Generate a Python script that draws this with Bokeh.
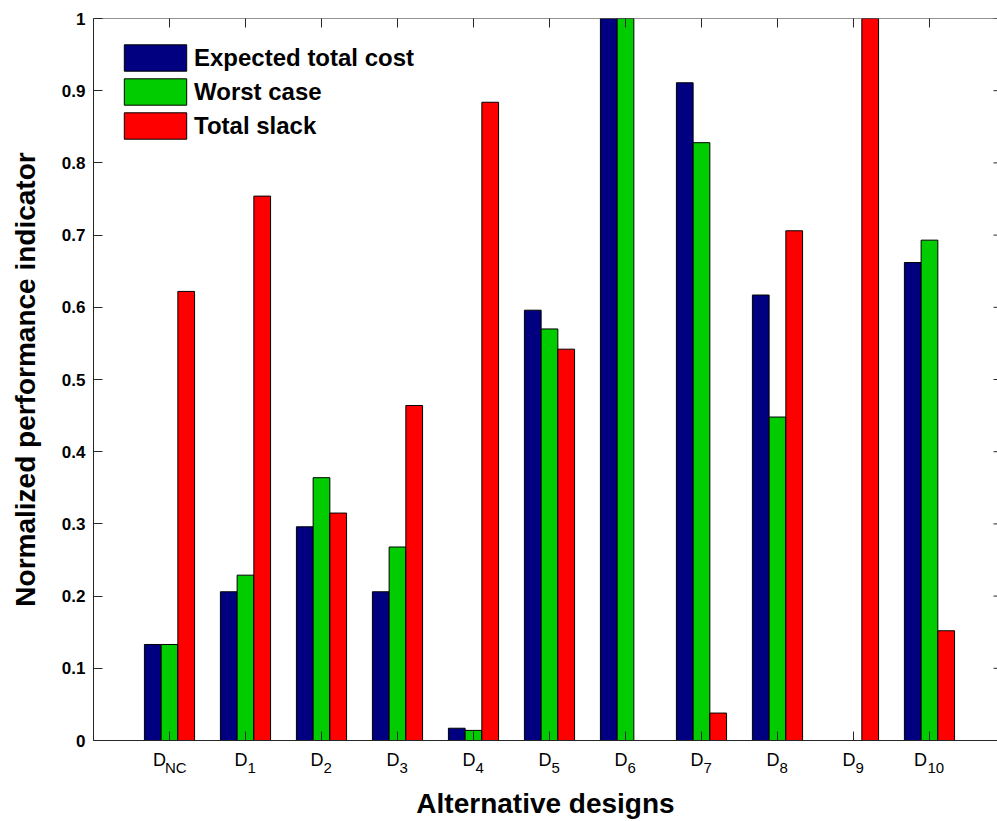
import math
from bokeh.plotting import figure
from bokeh.models import (Range1d, FixedTicker, LinearAxis, Legend, LegendItem,
                          ColumnDataSource, Span)
from bokeh.transform import dodge
from bokeh.embed import file_html
from bokeh.resources import INLINE

# ---------------- data ----------------
design_pos = [1, 2, 3, 4, 5, 6, 7, 8, 9, 10, 11]
design_sub = ["NC", "1", "2", "3", "4", "5", "6", "7", "8", "9", "10"]
expected_total_cost = [0.133, 0.206, 0.296, 0.206, 0.017, 0.596, 1.000, 0.911, 0.617, 0.000, 0.662]
worst_case          = [0.133, 0.229, 0.364, 0.268, 0.014, 0.570, 1.000, 0.828, 0.448, 0.000, 0.693]
total_slack         = [0.622, 0.754, 0.315, 0.464, 0.884, 0.542, 0.000, 0.038, 0.706, 1.000, 0.152]
series_names = ["Expected total cost", "Worst case", "Total slack"]
y_ticks = [0, 0.1, 0.2, 0.3, 0.4, 0.5, 0.6, 0.7, 0.8, 0.9, 1]
y_tick_labels = ["0", "0.1", "0.2", "0.3", "0.4", "0.5", "0.6", "0.7", "0.8", "0.9", "1"]

FONT = "Liberation Sans"
AX = "#262626"

src = ColumnDataSource(dict(x=design_pos, etc=expected_total_cost, wc=worst_case, ts=total_slack))

W, H = 997, 821
p = figure(width=W, height=H, output_backend="svg", toolbar_location=None,
           x_range=Range1d(0, 11.895), y_range=Range1d(0, 1),
           min_border_left=93, min_border_right=0, min_border_top=18, min_border_bottom=81)
p.background_fill_color = "white"
p.border_fill_color = "white"
p.outline_line_color = None
p.xgrid.visible = False
p.ygrid.visible = False

bw = 0.22
colors = ["#000080", "#00CC00", "#FF0000"]
r1 = p.vbar(x=dodge("x", -bw, range=p.x_range), top="etc", width=bw, source=src,
            fill_color=colors[0], line_color="black", line_width=1)
r2 = p.vbar(x=dodge("x", 0.0, range=p.x_range), top="wc", width=bw, source=src,
            fill_color=colors[1], line_color="black", line_width=1)
r3 = p.vbar(x=dodge("x", bw, range=p.x_range), top="ts", width=bw, source=src,
            fill_color=colors[2], line_color="black", line_width=1)

# top border + inward ticks on top and right (clipped dash markers)
p.add_layout(Span(location=p.y_range.end, dimension="width", line_color=AX, line_width=1))
p.scatter(x=design_pos, y=[p.y_range.end] * len(design_pos), marker="dash", size=18,
          angle=math.pi / 2, line_color=AX, line_width=1)
p.scatter(x=[p.x_range.end] * len(y_ticks), y=y_ticks, marker="dash", size=8,
          line_color=AX, line_width=1)

# bottom axis: tick marks + "D" part of the labels
xa = p.xaxis[0]
xa.ticker = FixedTicker(ticks=design_pos)
xa.axis_line_color = AX
xa.major_tick_line_color = AX
xa.minor_tick_line_color = None
xa.major_tick_in = 9
xa.major_tick_out = 0
pad_d = {"NC": "\u2007\u2007", "10": "\u2002\u2002"}
xa.major_label_overrides = {t: "D" + pad_d.get(s, "\u2002") for t, s in zip(design_pos, design_sub)}
xa.major_label_text_font = FONT
xa.major_label_text_font_size = "18px"
xa.major_label_text_color = "black"
xa.major_label_standoff = 9

# second bottom axis: subscripts
xs = LinearAxis(ticker=FixedTicker(ticks=design_pos))
xs.axis_line_color = None
xs.major_tick_line_color = None
xs.minor_tick_line_color = None
xs.major_tick_in = 0
xs.major_tick_out = 0
xs.major_label_overrides = {t: "\u2007\u2008" + s for t, s in zip(design_pos, design_sub)}
xs.major_label_text_font = FONT
xs.major_label_text_font_size = "15px"
xs.major_label_text_color = "black"
xs.major_label_standoff = -14
xs.axis_label = "Alternative designs"
xs.axis_label_text_font = FONT
xs.axis_label_text_font_style = "bold"
xs.axis_label_text_font_size = "28px"
xs.axis_label_text_color = "black"
xs.axis_label_standoff = 9
p.add_layout(xs, "below")

ya = p.yaxis[0]
ya.ticker = FixedTicker(ticks=y_ticks)
ya.major_label_overrides = {t: l for t, l in zip(y_ticks, y_tick_labels)}
ya.axis_line_color = AX
ya.major_tick_line_color = AX
ya.minor_tick_line_color = None
ya.major_tick_in = 9
ya.major_tick_out = 0
ya.major_label_text_font = FONT
ya.major_label_text_font_style = "bold"
ya.major_label_text_font_size = "17px"
ya.major_label_text_color = "black"
ya.major_label_standoff = 8
ya.axis_label = "Normalized performance indicator"
ya.axis_label_text_font = FONT
ya.axis_label_text_font_style = "bold"
ya.axis_label_text_font_size = "28px"
ya.axis_label_text_color = "black"
ya.axis_label_standoff = 18

legend = Legend(items=[LegendItem(label=series_names[0], renderers=[r1]),
                       LegendItem(label=series_names[1], renderers=[r2]),
                       LegendItem(label=series_names[2], renderers=[r3])],
                location="top_left")
legend.margin = 23
legend.padding = 6
legend.spacing = 1
legend.glyph_width = 78
legend.glyph_height = 33
legend.label_height = 33
legend.label_standoff = 0
legend.label_text_font = FONT
legend.label_text_font_style = "bold"
legend.label_text_font_size = "24px"
legend.label_text_color = "black"
legend.border_line_color = None
legend.background_fill_alpha = 0
p.add_layout(legend)

open("out.html", "w").write(file_html(p, INLINE))
